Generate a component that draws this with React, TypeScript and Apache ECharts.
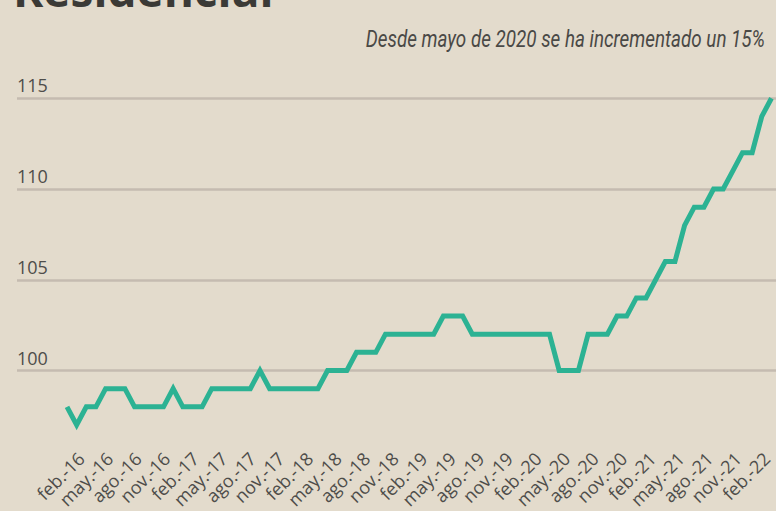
import React, { useEffect, useRef } from "react";
import * as echarts from "echarts";

const categories: string[] = [
  "feb.-16", "mar.-16", "abr.-16", "may.-16", "jun.-16", "jul.-16", "ago.-16", "sep.-16", "oct.-16", "nov.-16", "dic.-16",
  "ene.-17", "feb.-17", "mar.-17", "abr.-17", "may.-17", "jun.-17", "jul.-17", "ago.-17", "sep.-17", "oct.-17", "nov.-17", "dic.-17",
  "ene.-18", "feb.-18", "mar.-18", "abr.-18", "may.-18", "jun.-18", "jul.-18", "ago.-18", "sep.-18", "oct.-18", "nov.-18", "dic.-18",
  "ene.-19", "feb.-19", "mar.-19", "abr.-19", "may.-19", "jun.-19", "jul.-19", "ago.-19", "sep.-19", "oct.-19", "nov.-19", "dic.-19",
  "ene.-20", "feb.-20", "mar.-20", "abr.-20", "may.-20", "jun.-20", "jul.-20", "ago.-20", "sep.-20", "oct.-20", "nov.-20", "dic.-20",
  "ene.-21", "feb.-21", "mar.-21", "abr.-21", "may.-21", "jun.-21", "jul.-21", "ago.-21", "sep.-21", "oct.-21", "nov.-21", "dic.-21",
  "ene.-22", "feb.-22", "mar.-22",
];

const values: number[] = [
  98, 97, 98, 98, 99, 99, 99, 98, 98, 98, 98,
  99, 98, 98, 98, 99, 99, 99, 99, 99, 100, 99, 99,
  99, 99, 99, 99, 100, 100, 100, 101, 101, 101, 102, 102,
  102, 102, 102, 102, 103, 103, 103, 102, 102, 102, 102, 102,
  102, 102, 102, 102, 100, 100, 100, 102, 102, 102, 103, 103,
  104, 104, 105, 106, 106, 108, 109, 109, 110, 110, 111, 112,
  112, 114, 115,
];

const yMin = 95;
const yMax = 115;
const yStep = 5;

const titleText = "Residencial";
const subtitleText = "Desde mayo de 2020 se ha incrementado un 15%";

export default function App() {
  const ref = useRef<HTMLDivElement>(null);
  useEffect(() => {
    if (!ref.current) return;
    const chart = echarts.init(ref.current, null, { renderer: "svg" });
    const gridColor = "#c5bbb0";
    const textColor = "#4e4d4a";
    const top = 98.25;
    const bottom = 49.75;
    const plotWidth = 704.45;
    chart.setOption({
      animation: false,
      backgroundColor: "#e3dbcc",
      grid: [
        { left: 17, right: 0, top, bottom },
        { left: 67, width: plotWidth, top, bottom },
        { left: 81, width: plotWidth, top, bottom },
      ],
      xAxis: [
        { gridIndex: 0, type: "value", show: false, min: 0, max: 1 },
        { gridIndex: 1, type: "category", data: categories, boundaryGap: false, show: false },
        {
          gridIndex: 2,
          type: "category",
          data: categories,
          boundaryGap: false,
          axisLine: { show: false },
          axisTick: { show: false },
          splitLine: { show: false },
          axisLabel: {
            interval: 2,
            rotate: 45,
            margin: 8,
            fontSize: 18,
            fontFamily: "'Open Sans', sans-serif",
            color: textColor,
          },
        },
      ],
      yAxis: [
        {
          gridIndex: 0,
          type: "value",
          min: yMin,
          max: yMax,
          interval: yStep,
          axisLine: { show: false },
          axisTick: { show: false },
          splitLine: {
            show: true,
            showMinLine: false,
            lineStyle: { color: gridColor, width: 2.5 },
          },
          axisLabel: {
            inside: true,
            margin: 0,
            showMinLabel: false,
            align: "left",
            verticalAlign: "bottom",
            padding: [0, 0, 4, 0],
            fontSize: 18,
            fontFamily: "'Open Sans', sans-serif",
            color: textColor,
          },
        },
        { gridIndex: 1, type: "value", min: yMin, max: yMax, show: false },
        { gridIndex: 2, type: "value", min: yMin, max: yMax, show: false },
      ],
      series: [
        {
          type: "line",
          xAxisIndex: 1,
          yAxisIndex: 1,
          data: values,
          symbol: "none",
          showSymbol: false,
          lineStyle: { color: "#2cb293", width: 5, join: "miter" },
        },
      ],
      graphic: [
        {
          type: "text",
          x: 13,
          y: 12,
          style: {
            text: titleText,
            font: "bold 46px 'Open Sans', sans-serif",
            fill: "#3b3a36",
            align: "left",
            verticalAlign: "bottom",
          },
        },
        {
          type: "text",
          x: 765,
          y: 39,
          scaleX: 0.785,
          style: {
            text: subtitleText,
            font: "italic 24px Roboto, sans-serif",
            fill: "#4a4946",
            align: "right",
            verticalAlign: "middle",
          },
        },
      ],
    });
    return () => chart.dispose();
  }, []);
  return (
    <div
      ref={ref}
      style={{ position: "absolute", left: 0, top: 0, width: 776, height: 511 }}
    />
  );
}
